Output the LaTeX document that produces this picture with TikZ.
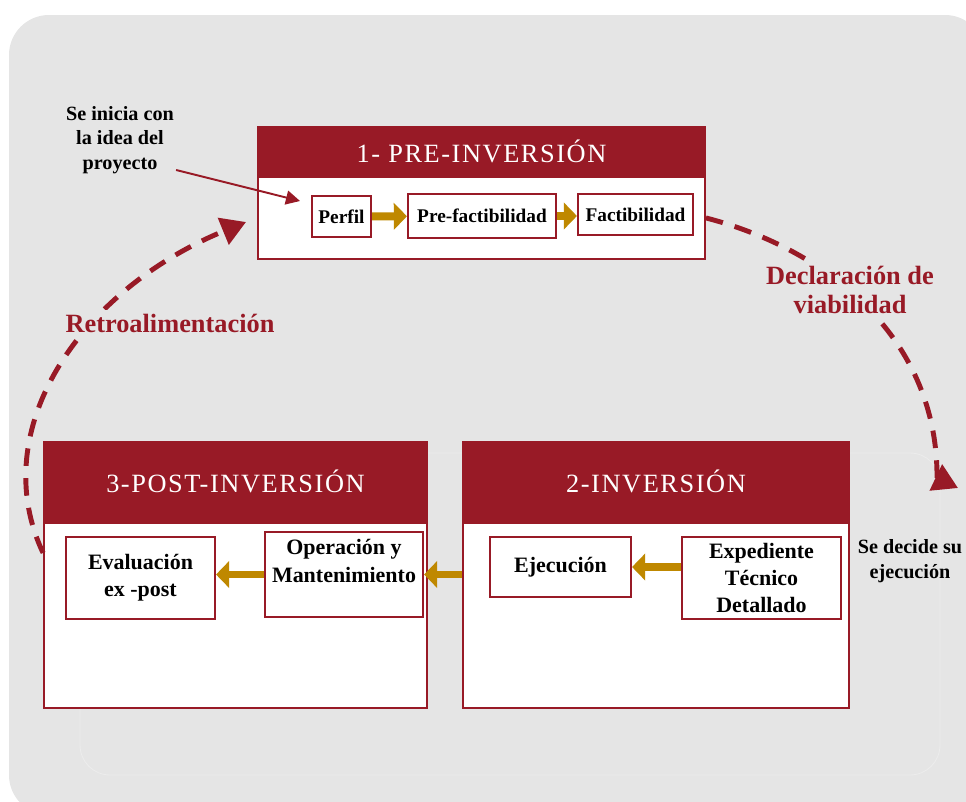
\documentclass[tikz,border=0pt]{standalone}
\usepackage{fontspec}
\setmainfont{Liberation Serif}
\newfontfamily\titlefont[LetterSpace=6]{Liberation Serif}
\usetikzlibrary{arrows.meta,positioning,calc}

\definecolor{vino}{RGB}{152,26,38}
\definecolor{oro}{RGB}{191,136,0}
\definecolor{fondo}{RGB}{229,229,229}

\tikzset{
  stagehead/.style={fill=vino, draw=vino, line width=1.1pt, text=white,
    font=\titlefont\fontsize{15}{18}\selectfont, inner sep=0pt},
  stagebody/.style={fill=white, draw=vino, line width=1.1pt, inner sep=0pt},
  paso/.style={draw=vino, fill=white, line width=1.2pt, align=center, inner sep=1pt,
    font=\bfseries\fontsize{11}{13}\selectfont},
  pasob/.style={paso, font=\bfseries\fontsize{12.5}{15.5}\selectfont},
  flecha/.style={oro, line width=4.5pt, -{Triangle[length=7.5pt,width=15pt]}},
  ciclo/.style={vino, line width=2.8pt, dash pattern=on 10pt off 7pt,
    -{Triangle[length=14pt,width=16pt]}},
  nota/.style={align=center, font=\bfseries\fontsize{11.5}{14}\selectfont},
  rotulo/.style={text=vino, fill=fondo, align=center, inner sep=2pt,
    font=\bfseries\fontsize{15}{17}\selectfont},
}

\begin{document}
\begin{tikzpicture}[x=0.02cm, y=-0.02cm]
    \useasboundingbox (0,0) rectangle (966,801);
    \fill[fondo, rounded corners=0.8cm] (9,15) rectangle (985,815);
    \draw[white!25!fondo, line width=0.5pt, rounded corners=0.6cm] (80,453) rectangle (940,775);

    % etapas
    \node[stagehead, minimum width=8.94cm, minimum height=0.96cm] (prehead) at (481.5,151) {1- PRE-INVERSIÓN};
    \node[stagebody, minimum width=8.94cm, minimum height=1.64cm, below=0pt of prehead] (prebody) {};

    \node[stagehead, minimum width=7.66cm, minimum height=1.58cm] (posthead) at (235.5,481.5) {3-POST-INVERSIÓN};
    \node[stagebody, minimum width=7.66cm, minimum height=3.7cm, below=0pt of posthead] (postbody) {};

    \node[stagehead, minimum width=7.72cm, minimum height=1.58cm] (invhead) at (656,481.5) {2-INVERSIÓN};
    \node[stagebody, minimum width=7.72cm, minimum height=3.7cm, below=0pt of invhead] (invbody) {};

    % pasos
    \node[paso, minimum width=1.18cm, minimum height=0.82cm] (perfil) at (341.5,216.5) {Perfil};
    \node[paso, minimum width=2.96cm, minimum height=0.88cm] (prefact) at (482,216) {Pre-factibilidad};
    \node[paso, minimum width=2.3cm, minimum height=0.82cm] (fact) at (635.5,214.5) {Factibilidad};

    \node[pasob, minimum width=2.98cm, minimum height=1.64cm] (eval) at (140.5,578) {Evaluación\\ex -post};
    \node[pasob, minimum width=3.16cm, minimum height=1.7cm] (oper) at (344,574.5) {Operación y\\Mantenimiento\\\mbox{}};
    \node[pasob, minimum width=2.82cm, minimum height=1.2cm] (ejec) at (560.5,567) {Ejecución};
    \node[pasob, minimum width=3.18cm, minimum height=1.64cm] (exped) at (761.5,578) {Expediente\\Técnico\\Detallado};

    \draw[flecha] (perfil) -- (prefact);
    \draw[flecha] (prefact.east) -- (prefact.east -| fact.west);
    \draw[flecha] (exped.west |- ejec.east) -- (ejec.east);
    \draw[flecha] (invbody.west |- oper.east) -- (oper.east);
    \draw[flecha] (oper.west) -- (oper.west -| eval.east);

    % ciclo
    \coordinate (fin1) at (958,488);
    \coordinate (fin2) at (246,222);
    \draw[ciclo] (prebody.east) .. controls (830,250) and (938,340) .. (937,478) -- (fin1);
    \draw[ciclo] (postbody.162) .. controls (-15,430) and (80,290) .. (fin2);

    \node[rotulo] (viab) at (850,290) {Declaración de\\[-1pt]viabilidad};
    \node[rotulo] (retro) at (170,323) {Retroalimentación};

    % notas
    \node[nota] (idea) at (120,140) {Se inicia con\\la idea del\\proyecto};
    \coordinate (ini) at (300,201);
    \draw[vino, line width=1.1pt, -{Triangle[length=8pt,width=8pt]}] ($(idea.south east)+(-4,-10)$) -- (ini);
    \node[nota] (decide) at (910,561) {Se decide su\\ejecución};
\end{tikzpicture}
\end{document}
